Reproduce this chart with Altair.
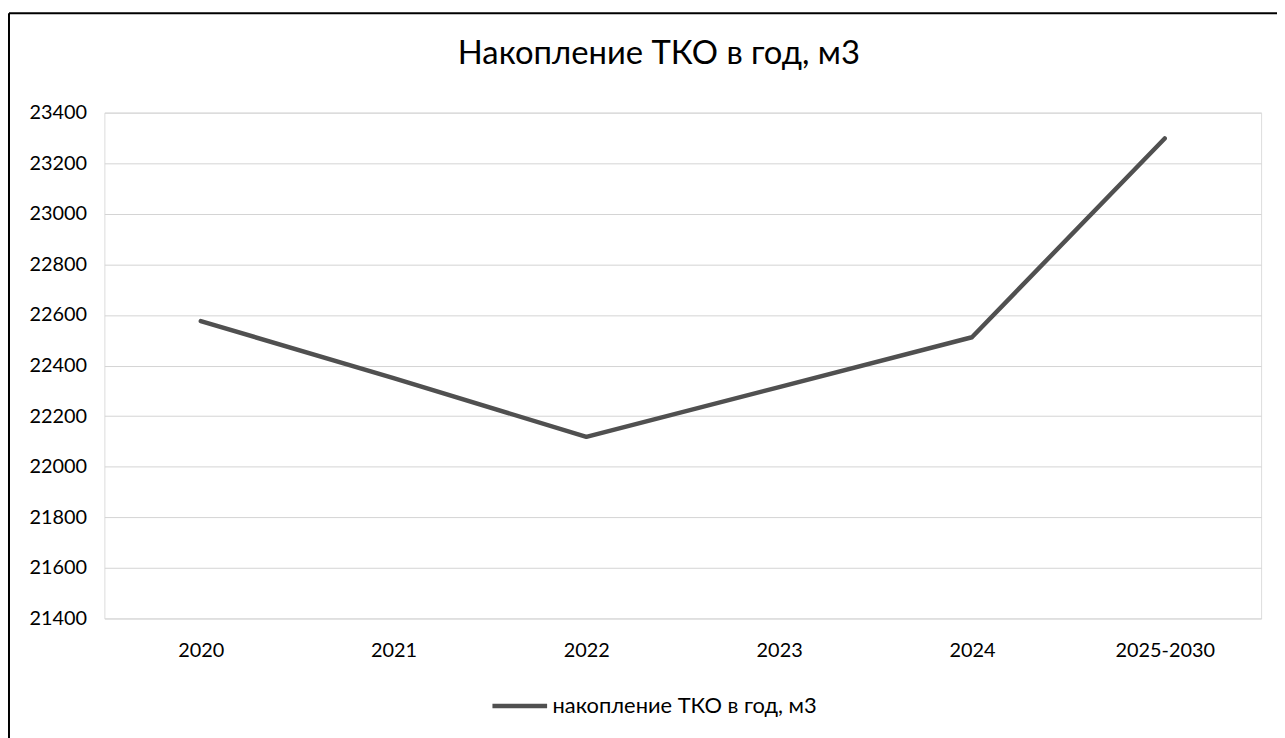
import altair as alt
import pandas as pd

categories = ["2020", "2021", "2022", "2023", "2024", "2025-2030"]
values = [22576, 22350, 22118, 22315, 22512, 23298]
series_name = "накопление ТКО в год, м3"
title_text = "Накопление ТКО в год, м3"
y_ticks = [21400, 21600, 21800, 22000, 22200, 22400, 22600, 22800, 23000, 23200, 23400]

df = pd.DataFrame({"cat": categories, "val": values, "series": [series_name] * len(categories)})

FONT = "Lato"

line = alt.Chart(df).mark_line(strokeWidth=4.5, strokeCap="round", strokeJoin="round").encode(
    x=alt.X("cat:N", sort=categories, title=None,
            scale=alt.Scale(padding=0.5),
            axis=alt.Axis(labelAngle=0, ticks=False, domain=False, grid=False,
                          labelPadding=22, labelFontSize=20, labelFont=FONT, labelColor="#000")),
    y=alt.Y("val:Q", title=None,
            scale=alt.Scale(domain=[21400, 23400], nice=False, zero=False),
            axis=alt.Axis(values=y_ticks, format="d", ticks=False, domain=False, grid=True,
                          gridColor="#d4d4d4", gridWidth=1,
                          labelPadding=18, labelFontSize=20, labelFont=FONT, labelColor="#000")),
    color=alt.Color("series:N", scale=alt.Scale(range=["#505050"]),
                    legend=alt.Legend(title=None, orient="none", legendX=388, legendY=567,
                                      symbolType="stroke", symbolSize=3025, symbolStrokeWidth=4.5,
                                      labelFontSize=22, labelFont=FONT, labelColor="#000",
                                      labelOffset=3, labelLimit=0)),
)

frame_df = pd.DataFrame({"k": [0]})
top_rule = alt.Chart(frame_df).mark_rule(color="#000", strokeWidth=2).encode(
    x=alt.value(-96), x2=alt.value(1190), y=alt.value(-100)
)
left_rule = alt.Chart(frame_df).mark_rule(color="#000", strokeWidth=2).encode(
    x=alt.value(-96), y=alt.value(-100), y2=alt.value(640)
)

chart = alt.layer(line, top_rule, left_rule).properties(
    width=1164,
    height=509,
    autosize=alt.AutoSizeParams(type="none"),
    padding={"left": 97, "top": 103, "right": 16, "bottom": 118},
    title=alt.TitleParams(title_text, font=FONT, fontSize=33,
                          fontWeight="normal", color="#000", anchor="middle",
                          dx=-24, offset=-59),
).configure_view(stroke=None).configure(background="white")

chart.save("out.html", embed_options={"renderer": "svg", "actions": False})
